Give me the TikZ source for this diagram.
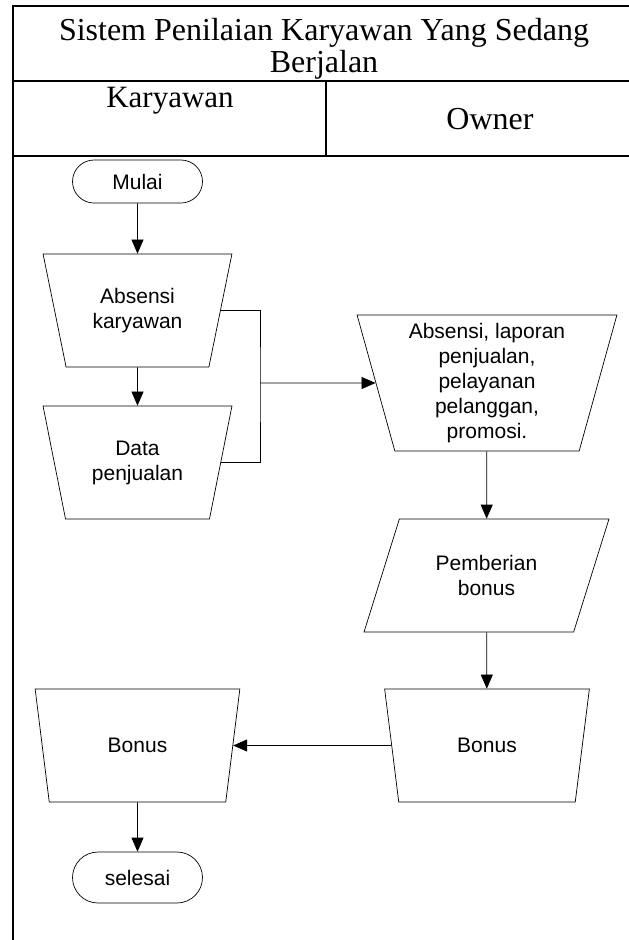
\documentclass[tikz,border=0pt]{standalone}
\usepackage{fontspec}
\setmainfont{Liberation Serif}
\newfontfamily\flowfont{Liberation Sans}
\usetikzlibrary{shapes.geometric,shapes.misc,arrows.meta}
\begin{document}
\begin{tikzpicture}[x=1pt,y=-1pt,
  every node/.style={inner sep=0pt},
  flow/.style={draw=black, line width=0.7pt, align=center,
    font=\flowfont\fontsize{21}{25}\selectfont},
  terminal/.style={flow, rounded rectangle, minimum width=130pt},
  manual/.style={flow, trapezium, trapezium stretches=true,
    trapezium left angle=#1, trapezium right angle=#1},
  iobox/.style={flow, trapezium, trapezium stretches=true,
    trapezium left angle=63, trapezium right angle=117,
    minimum width=245pt, minimum height=113pt},
  link/.style={line width=0.7pt},
  flowarrow/.style={link, -{Triangle[length=14pt,width=12pt]}},
  frame/.style={line width=2pt},
  head/.style={font=\fontsize{32}{32}\selectfont, align=center}
]
\useasboundingbox (0,0) rectangle (629,940);

% swimlane frame
\draw[frame, line width=2.5pt] (13,940) -- (13,6);
\draw[frame] (12,6) -- (629,6);
\draw[frame] (13,81) -- (629,81);
\draw[frame] (13,156) -- (629,156);
\draw[frame] (326,81) -- (326,156);

\node[head] (title) at (324,48.5) {Sistem Penilaian Karyawan Yang Sedang\\Berjalan};
\node[head, font=\fontsize{31}{32}\selectfont, anchor=base] (laneK) at (170,107) {Karyawan};
\node[head, anchor=base] (laneO) at (490,129) {Owner};

% flow steps
\node[terminal, minimum height=43pt] (mulai) at (137.5,181.5) {Mulai};
\node[manual=108, minimum width=189pt, minimum height=113pt] (absen) at (137.5,310.5) {Absensi\\karyawan};
\node[manual=108, minimum width=189pt, minimum height=113pt] (jual) at (137.5,462.5) {Data\\penjualan};
\node[manual=105, minimum width=260pt, minimum height=136pt] (rekap) at (487,383) {Absensi, laporan\\penjualan,\\pelayanan\\pelanggan,\\promosi.};
\node[iobox] (beri) at (486.5,575.5) {Pemberian\\bonus};
\node[manual=108, minimum width=206pt, minimum height=113pt] (bonusO) at (487,745.5) {Bonus};
\node[manual=108, minimum width=206pt, minimum height=113pt] (bonusK) at (137.5,745.5) {Bonus};
\node[terminal, minimum height=51pt] (selesai) at (137.5,877.5) {selesai};

\coordinate (join) at (260,383);

% connectors
\draw[flowarrow] (mulai) -- (absen);
\draw[flowarrow] (absen) -- (jual);
\draw[link] (absen.east) -| (join) |- (jual.east);
\draw[flowarrow] (join) -- (rekap.west);
\draw[flowarrow] (rekap) -- (beri);
\draw[flowarrow] (beri) -- (bonusO);
\draw[flowarrow] (bonusO) -- (bonusK);
\draw[flowarrow] (bonusK) -- (selesai);
\end{tikzpicture}
\end{document}
